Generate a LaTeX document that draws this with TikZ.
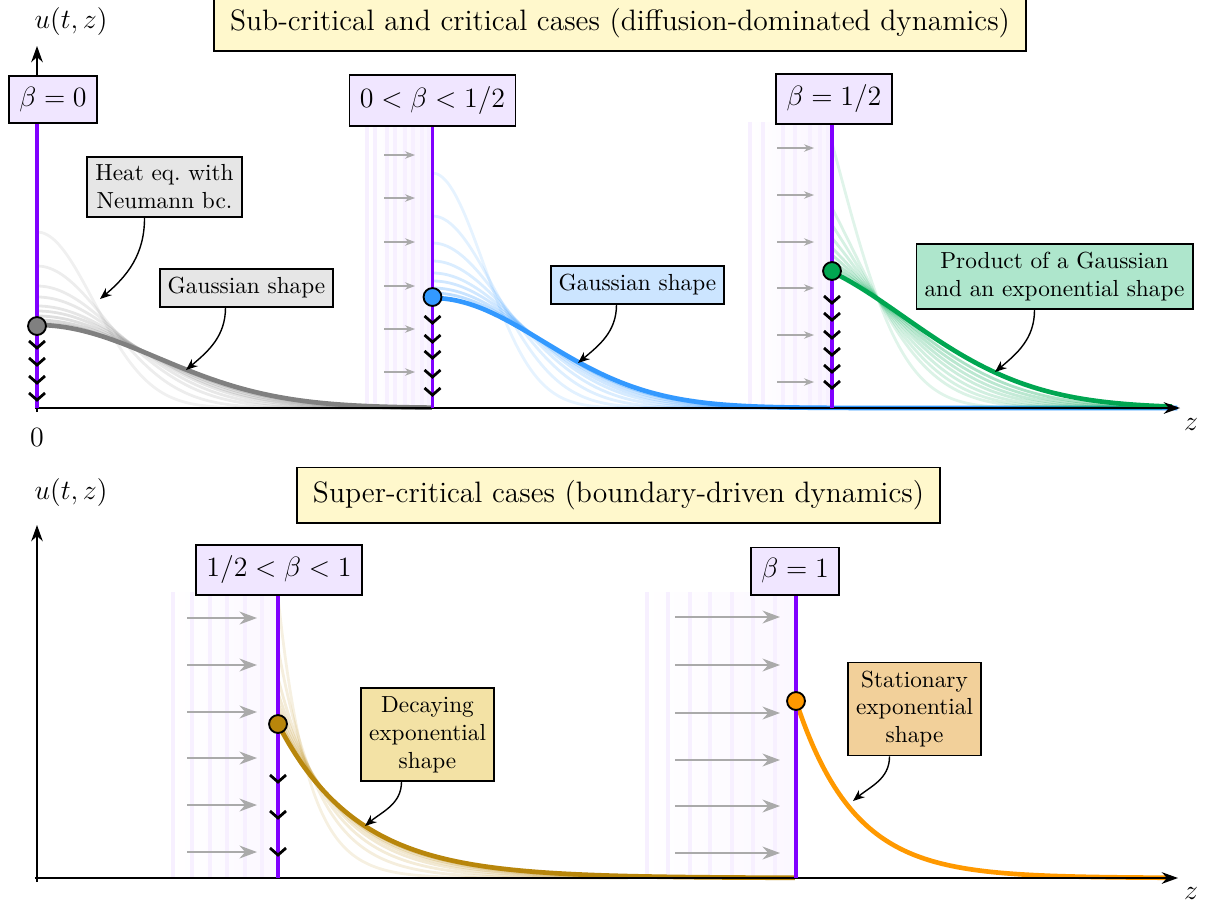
\documentclass[tikz,border=0pt]{standalone}
\usetikzlibrary{arrows.meta,calc}
\definecolor{bnd}{RGB}{128,0,255}
\definecolor{betafill}{RGB}{240,230,255}
\definecolor{titlefill}{RGB}{255,248,204}
\definecolor{grayfill}{RGB}{230,230,230}
\definecolor{bluefill}{RGB}{204,229,255}
\definecolor{greenfill}{RGB}{174,230,204}
\definecolor{goldfill}{RGB}{243,226,165}
\definecolor{orangefill}{RGB}{242,208,154}
\definecolor{cgray}{RGB}{128,128,128}
\definecolor{cblue}{RGB}{51,153,255}
\definecolor{cgreen}{RGB}{0,166,81}
\definecolor{cgold}{RGB}{184,134,11}
\definecolor{corange}{RGB}{255,153,0}
\definecolor{fluxgray}{RGB}{170,170,170}
\begin{document}
\begin{tikzpicture}[x=43pt,y=-43pt,
  axis/.style={line width=0.8pt,-{Stealth[length=7pt,width=5pt]}},
  lbl/.style={draw=black,line width=0.8pt,fill=betafill,font=\fontsize{12.7}{15}\selectfont,inner xsep=4.5pt,inner ysep=4.8pt},
  ttl/.style={draw=black,line width=0.8pt,fill=titlefill,font=\fontsize{12.7}{15}\selectfont,inner xsep=7pt,inner ysep=5.5pt},
  note/.style={draw=black,line width=0.8pt,align=center,inner sep=3.5pt},
  callout/.style={-{Stealth[length=5pt,width=4pt]},line width=0.6pt},
  wall/.style={bnd,line width=1.6pt},
  chev/.style={line width=1.2pt,line join=miter},
  fluxs/.style={fluxgray,line width=0.5pt,-{Stealth[length=4.3pt,width=3.2pt]}},
  fluxl/.style={fluxgray,line width=1pt,-{Stealth[length=7.5pt,width=5.5pt]}},
  stripe/.style={bnd!6,line width=1.6pt},
  dot/.style={circle,draw=black,line width=0.8pt,inner sep=0pt,minimum size=7.7pt}
]
\useasboundingbox (0,0) rectangle (12.05,9.03);

% ---------------- coordinates of walls ----------------
\coordinate (w1) at (0.37,4.08);
\coordinate (w2) at (4.325,4.08);
\coordinate (w3) at (8.32,4.08);
\coordinate (w4) at (2.78,8.78);
\coordinate (w5) at (7.96,8.78);

% ---------------- stripes (background) ----------------
\shade[left color=white,right color=bnd!4] (3.66,1.26) rectangle (4.325,4.08);
\foreach \s in {3.67,3.75,3.87,3.95,4.05,4.13,4.22,4.29} \draw[stripe] (\s,1.26) -- (\s,4.08);
\shade[left color=white,right color=bnd!4] (7.46,1.22) rectangle (8.32,4.08);
\foreach \s in {7.50,7.63,7.83,7.95,8.10,8.20,8.28} \draw[stripe] (\s,1.22) -- (\s,4.08);
\shade[left color=white,right color=bnd!3] (1.70,5.92) rectangle (2.78,8.78);
\foreach \s in {1.73,1.92,2.10,2.27,2.45,2.62} \draw[stripe] (\s,5.92) -- (\s,8.78);
\shade[left color=white,right color=bnd!3] (6.44,5.92) rectangle (7.96,8.78);
\foreach \s in {6.47,6.68,6.90,7.10,7.32,7.53,7.75} \draw[stripe] (\s,5.92) -- (\s,8.78);

% ---------------- flux arrows ----------------
\foreach \y in {1.55,1.98,2.42,2.86,3.29,3.72} \draw[fluxs] (3.84,\y) -- (4.15,\y);
\foreach \y in {1.48,1.95,2.42,2.88,3.35,3.82} \draw[fluxs] (7.77,\y) -- (8.14,\y);
\foreach \y in {6.18,6.65,7.12,7.58,8.05,8.52} \draw[fluxl] (1.87,\y) -- (2.57,\y);
\foreach \y in {6.17,6.65,7.13,7.60,8.06,8.53} \draw[fluxl] (6.75,\y) -- (7.80,\y);

% ---------------- curves ----------------
\begin{scope}[shift={(w1)}]
  \foreach \A/\o in {1.76/0.12,1.42/0.14,1.22/0.16,1.11/0.18,1.02/0.2,0.97/0.23,0.92/0.26,0.88/0.3,0.85/0.35}
    \draw[cgray,opacity=\o,line width=1.2pt] plot[domain=0:3.9,samples=90,smooth] (\x,{-\A*exp(-(\x*\A/1.41)^2)});
  \draw[cgray,line width=2pt] plot[domain=0:3.95,samples=90,smooth] (\x,{-0.83*exp(-(\x/1.70)^2)});
\end{scope}
\begin{scope}[shift={(w2)}]
  \foreach \A/\o in {2.35/0.12,1.92/0.14,1.65/0.16,1.47/0.18,1.35/0.2,1.27/0.23,1.20/0.27,1.15/0.32}
    \draw[cblue,opacity=\o,line width=1.2pt] plot[domain=0:4.5,samples=90,smooth] (\x,{-\A*exp(-(\x*\A/1.716)^2)});
  \draw[cblue,line width=2pt] plot[domain=0:7.45,samples=120,smooth] (\x,{-1.10*exp(-(\x/1.56)^2)});
\end{scope}
\begin{scope}[shift={(w3)}]
  \foreach \A/\o in {2.65/0.12,2.00/0.14,1.83/0.16,1.70/0.18,1.60/0.2,1.53/0.23,1.47/0.27,1.42/0.32}
    \draw[cgreen,opacity=\o,line width=1.2pt] plot[domain=0:3.3,samples=90,smooth] (\x,{-\A*exp(-ln(\A/1.09)/0.222*(0.35*\x+0.29*\x*\x))});
  \draw[cgreen,line width=2pt] plot[domain=0:3.40,samples=90,smooth] (\x,{-1.36*exp(-(0.35*\x+0.29*\x*\x))});
\end{scope}
\begin{scope}[shift={(w4)}]
  \foreach \A/\L/\o in {2.81/0.30/0.12,2.30/0.42/0.14,2.00/0.52/0.16,1.85/0.60/0.18,1.75/0.66/0.2,1.67/0.71/0.23,1.61/0.75/0.27,1.57/0.78/0.32}
    \draw[cgold,opacity=\o,line width=1.2pt] plot[domain=0:3.5,samples=90,smooth] (\x,{-\A*exp(-\x/\L)});
  \draw[cgold,line width=2pt] plot[domain=0:5.17,samples=110,smooth] (\x,{-1.54*exp(-\x/0.80)});
\end{scope}
\begin{scope}[shift={(w5)}]
  \draw[corange,line width=2pt] plot[domain=0:3.75,samples=100,smooth] (\x,{-1.77*exp(-\x/0.58)});
\end{scope}

% ---------------- axes ----------------
\draw[axis] (0.35,4.08) -- (11.80,4.08);
\draw[axis] (0.37,4.12) -- (0.37,0.46);
\draw[axis] (0.35,8.78) -- (11.78,8.78);
\draw[axis] (0.37,8.82) -- (0.37,5.25);
\node[font=\large] (u1) at (0.71,0.22) {$u(t,z)$};
\node[font=\large] (u2) at (0.71,4.93) {$u(t,z)$};
\node[font=\large] (z1) at (11.91,4.24) {$z$};
\node[font=\large] (z2) at (11.91,8.93) {$z$};
\node[font=\large] (zero) at (0.37,4.37) {$0$};

% ---------------- titles ----------------
\node[ttl] (t1) at (6.20,0.235) {Sub-critical and critical cases (diffusion-dominated dynamics)};
\node[ttl] (t2) at (6.185,4.95) {Super-critical cases (boundary-driven dynamics)};

% ---------------- beta labels ----------------
\node[lbl] (b1) at (0.53,0.995) {$\beta=0$};
\node[lbl] (b2) at (4.325,1.005) {$0<\beta<1/2$};
\node[lbl] (b3) at (8.34,0.99) {$\beta=1/2$};
\node[lbl] (b4) at (2.79,5.70) {$1/2<\beta<1$};
\node[lbl] (b5) at (7.95,5.71) {$\beta=1$};

% ---------------- walls ----------------
\draw[wall] (w1) -- (w1 |- b1.south);
\draw[wall] (w2) -- (w2 |- b2.south);
\draw[wall] (w3) -- (w3 |- b3.south);
\draw[wall] (w4) -- (w4 |- b4.south);
\draw[wall] (w5) -- (w5 |- b5.south);

% ---------------- chevrons ----------------
\foreach \y in {3.48,3.65,3.83,4.00} \draw[chev] (0.29,\y-0.07) -- (0.37,\y) -- (0.45,\y-0.07);
\foreach \y in {3.23,3.42,3.58,3.77,3.95} \draw[chev] (4.245,\y-0.07) -- (4.325,\y) -- (4.405,\y-0.07);
\foreach \y in {3.03,3.20,3.38,3.55,3.72,3.88} \draw[chev] (8.24,\y-0.07) -- (8.32,\y) -- (8.40,\y-0.07);
\foreach \y in {7.82,8.18,8.55} \draw[chev] (2.70,\y-0.07) -- (2.78,\y) -- (2.86,\y-0.07);

% ---------------- dots ----------------
\node[dot,fill=cgray] (d1) at (0.37,3.26) {};
\node[dot,fill=cblue] (d2) at (4.325,2.97) {};
\node[dot,fill=cgreen] (d3) at (8.32,2.71) {};
\node[dot,fill=cgold] (d4) at (2.78,7.24) {};
\node[dot,fill=corange] (d5) at (7.96,7.01) {};

% ---------------- notes ----------------
\node[note,fill=grayfill] (n1) at (1.645,1.87) {Heat eq.\ with\\Neumann bc.};
\node[note,fill=grayfill] (n2) at (2.465,2.88) {Gaussian shape};
\node[note,fill=bluefill] (n3) at (6.375,2.85) {Gaussian shape};
\node[note,fill=greenfill] (n4) at (10.545,2.765) {Product of a Gaussian\\and an exponential shape};
\node[note,fill=goldfill] (n5) at (4.275,7.345) {Decaying\\exponential\\shape};
\node[note,fill=orangefill] (n6) at (9.145,7.09) {Stationary\\exponential\\shape};

\coordinate (e1) at (1.00,2.99);
\coordinate (e2) at (1.86,3.70);
\coordinate (e3) at (5.78,3.63);
\coordinate (e4) at (9.95,3.72);
\coordinate (e5) at (3.65,8.26);
\coordinate (e6) at (8.53,8.01);
\draw[callout] ($(n1.south)+(-0.20,0)$) to[out=-90,in=40] (e1);
\draw[callout] ($(n2.south)+(-0.21,0)$) to[out=-90,in=40] (e2);
\draw[callout] ($(n3.south)+(-0.21,0)$) to[out=-90,in=40] (e3);
\draw[callout] ($(n4.south)+(-0.20,0)$) to[out=-90,in=40] (e4);
\draw[callout] ($(n5.south)+(-0.26,0)$) to[out=-90,in=40] (e5);
\draw[callout] ($(n6.south)+(-0.25,0)$) to[out=-90,in=40] (e6);
\end{tikzpicture}
\end{document}
